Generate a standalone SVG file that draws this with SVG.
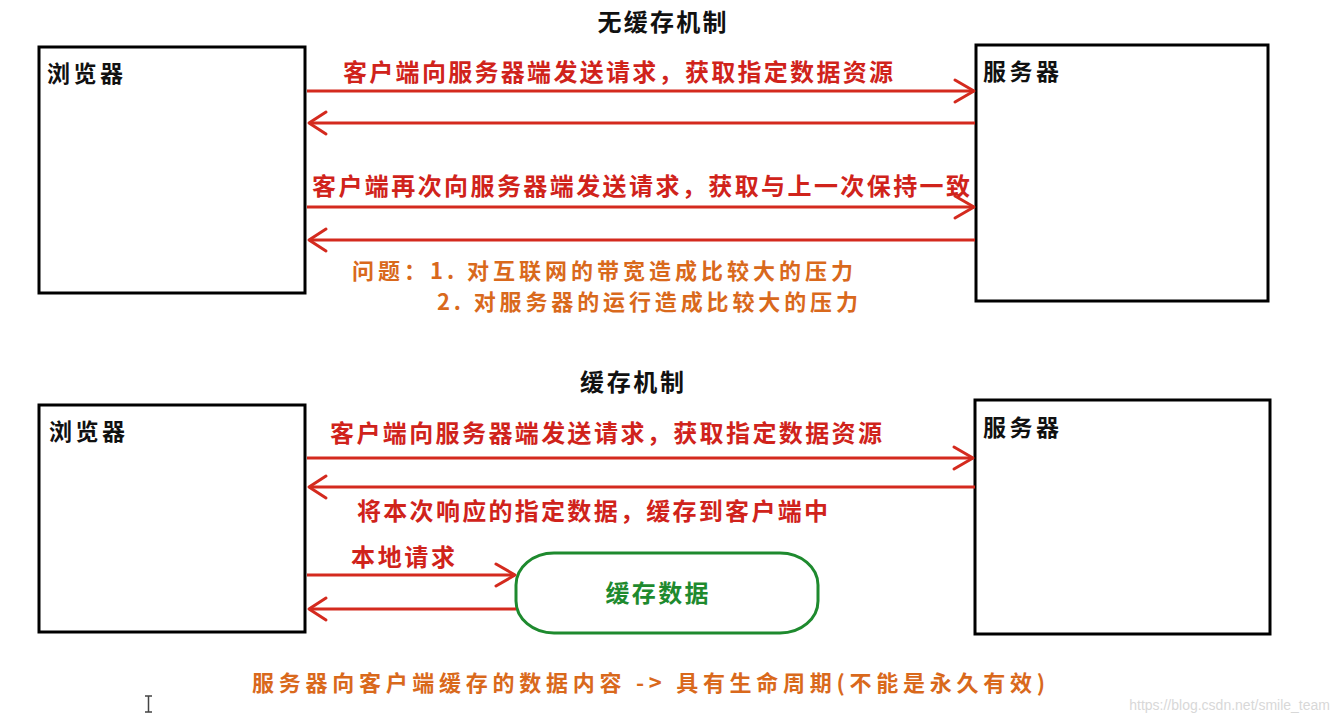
<svg xmlns="http://www.w3.org/2000/svg" width="1339" height="721" viewBox="0 0 1339 721">
<style>
.box{fill:#fff;stroke:#000;stroke-width:3}
.t{font-family:"Noto Sans CJK SC","Noto Sans CJK JP",sans-serif;font-weight:bold}
.title{font-size:24px;fill:#111}
.node{font-size:23px;fill:#111}
.red{font-size:24px;fill:#d0231b}
.org{font-size:22px;fill:#d9691c}
.ln{stroke:#d42a1e;stroke-width:3;fill:none}
.hd{stroke:#d42a1e;stroke-width:3;fill:none;stroke-linecap:round;stroke-linejoin:round}
</style>
<rect width="1339" height="721" fill="#fff"/>
<text class="t title" x="662" y="31" text-anchor="middle" textLength="129" lengthAdjust="spacing">无缓存机制</text>
<text class="t title" x="632" y="391" text-anchor="middle" textLength="104" lengthAdjust="spacing">缓存机制</text>

<g id="browser1"><rect class="box" x="39" y="47" width="266" height="246"/><text class="t node" x="47" y="82" textLength="76" lengthAdjust="spacing">浏览器</text></g>
<g id="server1"><rect class="box" x="976" y="45" width="292" height="256"/><text class="t node" x="983" y="80" textLength="76" lengthAdjust="spacing">服务器</text></g>
<g id="browser2"><rect class="box" x="39" y="405" width="266" height="227"/><text class="t node" x="49" y="440" textLength="76" lengthAdjust="spacing">浏览器</text></g>
<g id="server2"><rect class="box" x="975" y="400" width="295" height="234"/><text class="t node" x="983" y="436" textLength="76" lengthAdjust="spacing">服务器</text></g>
<g id="cache"><rect x="516" y="553" width="302" height="80" rx="38" ry="32" fill="#fff" stroke="#1e8a2e" stroke-width="3"/><text class="t" x="657" y="602" text-anchor="middle" font-size="24" fill="#1e8a2e" textLength="103" lengthAdjust="spacing">缓存数据</text></g>

<g id="connectors">
<line class="ln" x1="307" y1="91" x2="974" y2="91"/><polyline class="hd" points="955,80 974,91 955,102"/>
<line class="ln" x1="975" y1="123" x2="309" y2="123"/><polyline class="hd" points="326,112 309,123 326,134"/>
<line class="ln" x1="307" y1="207" x2="974" y2="207"/><polyline class="hd" points="955,196 974,207 955,218"/>
<line class="ln" x1="975" y1="240" x2="309" y2="240"/><polyline class="hd" points="326,229 309,240 326,251"/>
<line class="ln" x1="307" y1="458" x2="973" y2="458"/><polyline class="hd" points="954,447 973,458 954,469"/>
<line class="ln" x1="975" y1="487" x2="309" y2="487"/><polyline class="hd" points="326,476 309,487 326,498"/>
<line class="ln" x1="307" y1="575" x2="515" y2="575"/><polyline class="hd" points="496,564 515,575 496,586"/>
<line class="ln" x1="516" y1="609" x2="309" y2="609"/><polyline class="hd" points="326,598 309,609 326,620"/>
</g>

<g id="labels">
<text class="t red" x="343" y="81" textLength="550" lengthAdjust="spacing">客户端向服务器端发送请求，获取指定数据资源</text>
<text class="t red" x="312" y="195" textLength="658" lengthAdjust="spacing">客户端再次向服务器端发送请求，获取与上一次保持一致</text>
<text class="t org" x="352" y="279" textLength="501" lengthAdjust="spacing">问题：1. 对互联网的带宽造成比较大的压力</text>
<text class="t org" x="437" y="310" textLength="421" lengthAdjust="spacing">2. 对服务器的运行造成比较大的压力</text>
<text class="t red" x="330" y="442" textLength="552" lengthAdjust="spacing">客户端向服务器端发送请求，获取指定数据资源</text>
<text class="t red" x="357" y="520" textLength="471" lengthAdjust="spacing">将本次响应的指定数据，缓存到客户端中</text>
<text class="t red" x="351" y="566" textLength="104" lengthAdjust="spacing">本地请求</text>
<text class="t org" x="252" y="691" textLength="793" lengthAdjust="spacing">服务器向客户端缓存的数据内容 -&gt; 具有生命周期(不能是永久有效)</text>
<text x="1330" y="710" text-anchor="end" font-family="Liberation Sans, sans-serif" font-size="14" fill="#d8d8d8">https://blog.csdn.net/smile_team</text>
</g>
<g id="cursor" stroke="#444" stroke-width="1.5" fill="none"><path d="M145,696 H152 M148.5,696 V712 M145,712 H152"/></g>
</svg>
